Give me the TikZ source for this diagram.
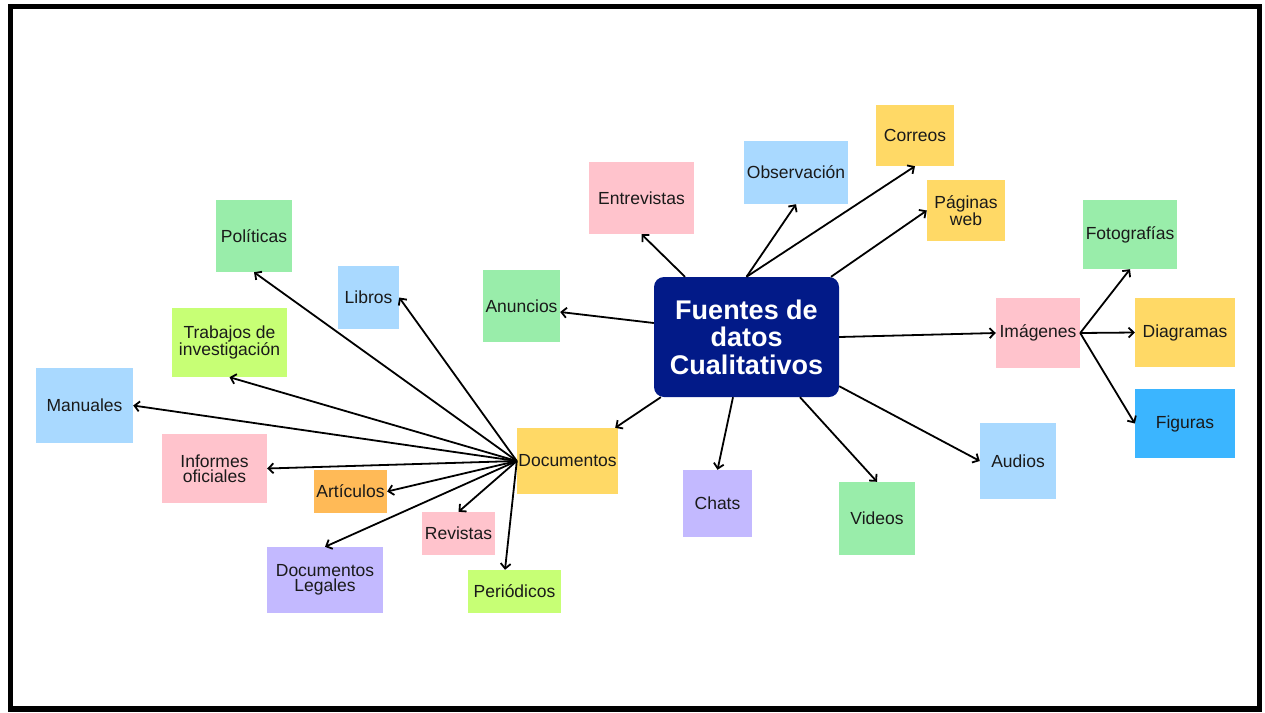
\documentclass[tikz,border=0pt]{standalone}
\usepackage{fontspec}
\setmainfont{Liberation Sans}
\usetikzlibrary{arrows.meta}

\definecolor{cYellow}{HTML}{FFD966}
\definecolor{cSky}{HTML}{A9D9FF}
\definecolor{cPink}{HTML}{FFC3CC}
\definecolor{cGreen}{HTML}{99EDAA}
\definecolor{cLime}{HTML}{C7FF75}
\definecolor{cOrange}{HTML}{FFBA57}
\definecolor{cLavender}{HTML}{C3B9FF}
\definecolor{cBlue}{HTML}{3BB5FF}
\definecolor{cNavy}{HTML}{021A88}
\definecolor{cText}{HTML}{1A1A1A}

\tikzset{
  card/.style={rectangle, inner sep=0pt, align=center, text=cText,
    font=\fontsize{17.5}{15.5}\selectfont},
  hub/.style={rectangle, rounded corners=10pt, fill=cNavy, inner sep=0pt,
    align=center, text=white, font=\fontsize{27}{27.5}\selectfont\bfseries},
  link/.style={line width=1.8pt, -{Straight Barb[length=5pt,width=10pt]}},
  frame/.style={line width=5.5pt}
}

\begin{document}
\begin{tikzpicture}[x=1pt, y=-1pt]
\useasboundingbox (0,0) rectangle (1265,712);
\fill[white] (0,0) rectangle (1265,712);
\draw[frame] (10.5,6.5) rectangle (1259.5,709);

% central topic
\node[hub, minimum width=185pt, minimum height=120pt] (hub) at (746.5,337)
  {Fuentes de\\datos\\Cualitativos};

% first ring
\node[card, fill=cYellow, minimum width=78pt, minimum height=61pt] (correos) at (915,135.5) {Correos};
\node[card, fill=cSky, minimum width=104pt, minimum height=63pt] (obs) at (796,172.5) {Observación};
\node[card, fill=cPink, minimum width=105pt, minimum height=72pt] (entre) at (641.5,198) {Entrevistas};
\node[card, fill=cYellow, minimum width=78pt, minimum height=61pt] (web) at (966,210.5) {Páginas\\web};
\node[card, fill=cGreen, minimum width=77pt, minimum height=72pt] (anuncios) at (521.5,306) {Anuncios};
\node[card, fill=cPink, minimum width=84pt, minimum height=70pt] (imagenes) at (1038,333) {Imágenes};
\node[card, fill=cYellow, minimum width=101pt, minimum height=66pt] (docs) at (567.5,461) {Documentos};
\node[card, fill=cLavender, minimum width=69pt, minimum height=67pt] (chats) at (717.5,503.5) {Chats};
\node[card, fill=cGreen, minimum width=76pt, minimum height=73pt] (videos) at (877,518.5) {Videos};
\node[card, fill=cSky, minimum width=76pt, minimum height=76pt] (audios) at (1018,461) {Audios};

% image kinds
\node[card, fill=cGreen, minimum width=94pt, minimum height=69pt] (fotos) at (1130,234.5) {Fotografías};
\node[card, fill=cYellow, minimum width=100pt, minimum height=69pt] (diagramas) at (1185,332.5) {Diagramas};
\node[card, fill=cBlue, minimum width=100pt, minimum height=69pt] (figuras) at (1185,423.5) {Figuras};

% document kinds
\node[card, fill=cGreen, minimum width=76pt, minimum height=72pt] (politicas) at (254,236) {Políticas};
\node[card, fill=cSky, minimum width=61pt, minimum height=63pt] (libros) at (368.5,297.5) {Libros};
\node[card, fill=cLime, minimum width=115pt, minimum height=69pt] (trabajos) at (229.5,342.5) {Trabajos de\\investigación};
\node[card, fill=cSky, minimum width=97pt, minimum height=75pt] (manuales) at (84.5,405.5) {Manuales};
\node[card, fill=cPink, minimum width=105pt, minimum height=69pt] (informes) at (214.5,468.5) {Informes\\oficiales};
\node[card, fill=cOrange, minimum width=73pt, minimum height=43pt] (articulos) at (350.5,491.5) {Artículos};
\node[card, fill=cPink, minimum width=73pt, minimum height=43pt] (revistas) at (458.5,533.5) {Revistas};
\node[card, fill=cLavender, minimum width=116pt, minimum height=66pt] (legales) at (325,580) {Documentos\\Legales};
\node[card, fill=cLime, minimum width=93pt, minimum height=43pt] (periodicos) at (514.5,591.5) {Periódicos};

% connectors from the central topic
\draw[link] ([xshift=-61.5pt]hub.north) -- (entre.south);
\draw[link] (hub.north) -- (obs.south);
\draw[link] (hub.north) -- (correos.south);
\draw[link] ([xshift=84.5pt]hub.north) -- (web.west);
\draw[link] ([yshift=14pt]hub.west) -- ([yshift=-6pt]anuncios.east);
\draw[link] (hub.east) -- (imagenes.west);
\draw[link] ([xshift=7pt]hub.south west) -- ([xshift=-3pt]docs.north east);
\draw[link] ([xshift=-13.5pt]hub.south) -- (chats.north);
\draw[link] ([xshift=53.5pt]hub.south) -- (videos.north);
\draw[link] ([yshift=11pt]hub.south east) -- (audios.west);

% connectors from Imágenes
\draw[link] (imagenes.east) -- (fotos.south);
\draw[link] (imagenes.east) -- (diagramas.west);
\draw[link] (imagenes.east) -- (figuras.west);

% connectors from Documentos
\draw[link] (docs.west) -- (politicas.south);
\draw[link] (docs.west) -- (libros.east);
\draw[link] (docs.west) -- (trabajos.south);
\draw[link] (docs.west) -- (manuales.east);
\draw[link] (docs.west) -- (informes.east);
\draw[link] (docs.west) -- (articulos.east);
\draw[link] (docs.west) -- (legales.north);
\draw[link] (docs.west) -- (revistas.north);
\draw[link] (docs.west) -- ([xshift=-9.5pt]periodicos.north);
\end{tikzpicture}
\end{document}
